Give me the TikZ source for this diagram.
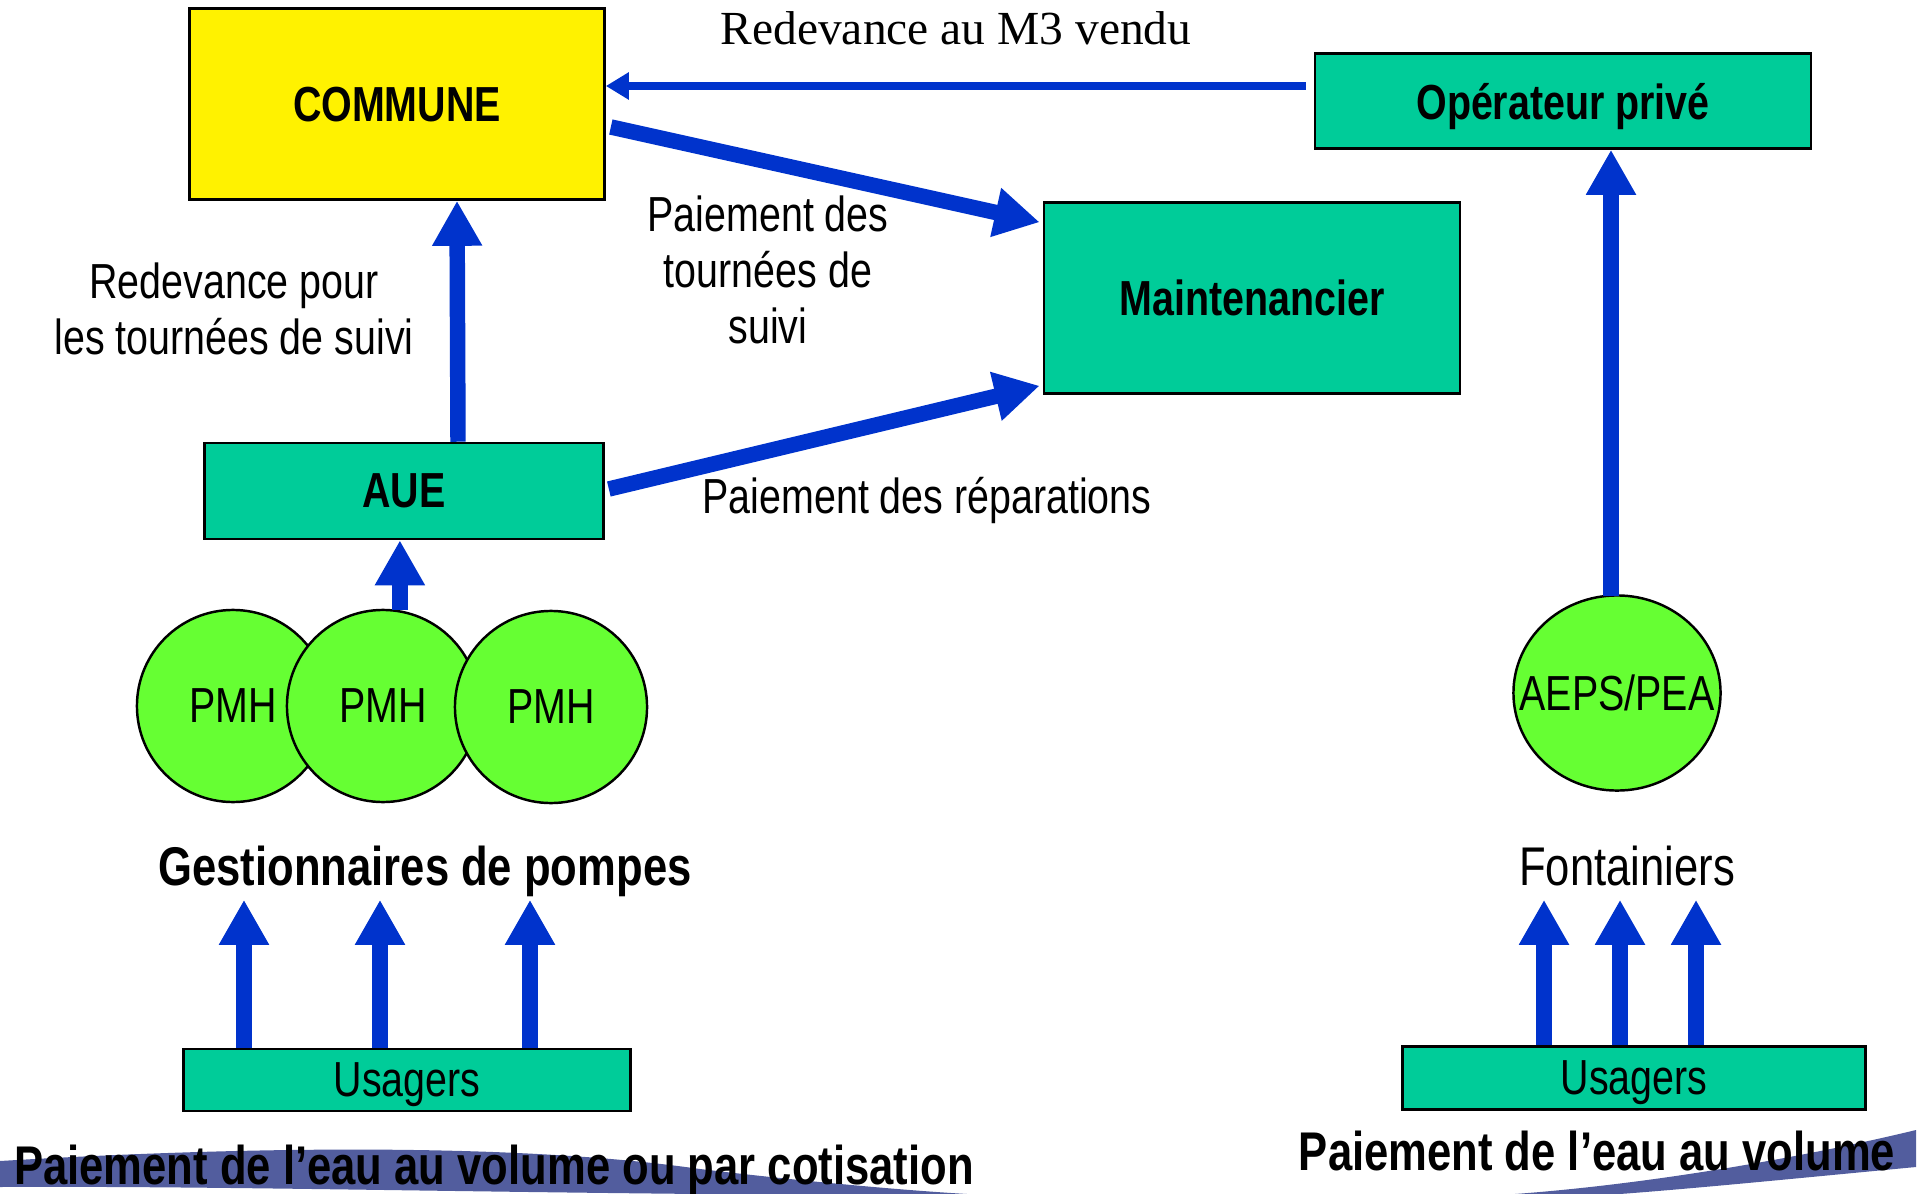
\documentclass[tikz,border=0pt]{standalone}
\usepackage{fontspec}
\setmainfont{Liberation Sans}
\newfontfamily\narrowfont[FakeStretch=0.8]{Liberation Sans}
\newfontfamily\timesfont{Liberation Serif}
\usetikzlibrary{arrows.meta,calc,shapes.geometric}

\definecolor{flowblue}{RGB}{0,51,204}
\definecolor{boxteal}{RGB}{0,204,153}
\definecolor{pumpgreen}{RGB}{102,255,51}
\definecolor{wavecolor}{RGB}{82,93,158}

\begin{document}
\begin{tikzpicture}[x=0.01cm, y=-0.01cm,
    box/.style={draw, line width=0.7pt, fill=boxteal, inner sep=0pt, text depth=0pt,
      font=\narrowfont\fontsize{14pt}{16pt}\selectfont\bfseries},
    pump/.style={draw, line width=0.7pt, fill=pumpgreen, inner sep=0pt},
    lbl/.style={align=center, font=\narrowfont\fontsize{14pt}{16pt}\selectfont},
    grp/.style={anchor=base, inner sep=1pt, text depth=3pt,
      font=\narrowfont\fontsize{15.5pt}{18pt}\selectfont},
    flow/.style={flowblue, line width=4.4pt, -{Triangle[length=0.45cm, width=0.47cm]}},
    thinflow/.style={flowblue, line width=2.3pt, -{Triangle[length=0.23cm, width=0.26cm]}}]

    \useasboundingbox (0,0) rectangle (1921,1194);

    \fill[wavecolor] (0,1161) .. controls (250,1146) and (520,1143) .. (700,1169)
        .. controls (800,1181) and (900,1190) .. (967,1194) -- (700,1194)
        .. controls (400,1191) and (200,1186) .. (0,1187) -- cycle;
    \fill[wavecolor] (1515,1194) .. controls (1650,1184) and (1800,1158) .. (1916,1130)
        -- (1916,1167) .. controls (1800,1178) and (1700,1188) .. (1620,1194) -- cycle;

    \node[box, fill=yellow, minimum width=4.15cm, minimum height=1.91cm] (commune) at (397,104) {COMMUNE};
    \node[box, minimum width=4.96cm, minimum height=0.95cm] (operateur) at (1563,101) {Opérateur privé};
    \node[box, minimum width=4.16cm, minimum height=1.91cm] (maint) at (1252,298) {Maintenancier};
    \node[box, minimum width=3.99cm, minimum height=0.96cm] (aue) at (404,491) {AUE};

    \node[pump, circle, minimum size=1.92cm, lbl] (pmh1) at (233,706) {PMH};
    \node[pump, circle, minimum size=1.92cm, lbl] (pmh2) at (383,706) {PMH};
    \node[pump, circle, minimum size=1.92cm, lbl] (pmh3) at (551,707) {PMH};
    \node[pump, ellipse, minimum width=2.07cm, minimum height=1.95cm] (aeps) at (1617,693) {};
    \node[lbl] (aepstext) at (aeps.center) {AEPS/PEA};

    \node[grp, font=\narrowfont\fontsize{15.5pt}{18pt}\selectfont\bfseries] (gestion) at (425,885) {Gestionnaires de pompes};
    \node[grp] (fontain) at (1627,885) {Fontainiers};

    \node[box, minimum width=4.47cm, minimum height=0.62cm, font=\narrowfont\fontsize{14pt}{16pt}\selectfont] (usagersL) at (407,1080) {Usagers};
    \node[box, minimum width=4.63cm, minimum height=0.63cm, font=\narrowfont\fontsize{14pt}{16pt}\selectfont] (usagersR) at (1634,1078) {Usagers};

    \node[grp, font=\narrowfont\fontsize{15.5pt}{18pt}\selectfont\bfseries] (payL) at (494,1184) {Paiement de l’eau au volume ou par cotisation};
    \node[grp, font=\narrowfont\fontsize{15.5pt}{18pt}\selectfont\bfseries] (payR) at (1597,1170) {Paiement de l’eau au volume};

    \node[anchor=base, font=\timesfont\fontsize{13.5pt}{16pt}\selectfont] (m3) at (956,45) {Redevance au M3 vendu};
    \node[lbl] (tournees) at (768,270) {Paiement des\\tournées de\\suivi};
    \node[lbl] (redev) at (234,309) {Redevance pour\\les tournées de suivi};
    \node[lbl] (repar) at (927,500) {Paiement des réparations};

    \draw[thinflow] ($(operateur.west)+(-8,-15)$) -- ($(commune.east)+(0,-18)$);
    \draw[flow] ($(commune.east)+(5,23)$) -- ($(maint.north west)+(-3,21)$);
    \draw[flow] ($(aue.east)+(4,-2)$) -- ($(maint.south west)+(-3,-9)$);
    \draw[flow] ($(aue.north)+(54,0)$) -- ($(commune.south)+(60,0)$);
    \draw[flow] (pmh2.80) -- (pmh2.80 |- aue.south);
    \draw[flow] ($(aeps.north)+(-6,2)$) -- ($(operateur.south)+(48,0)$);

    \foreach \x in {244,380,530}
        \draw[flow] (\x,0 |- usagersL.north) -- (\x,0 |- gestion.south);
    \foreach \x in {1544,1620,1696}
        \draw[flow] (\x,0 |- usagersR.north) -- (\x,0 |- fontain.south);

\end{tikzpicture}
\end{document}
